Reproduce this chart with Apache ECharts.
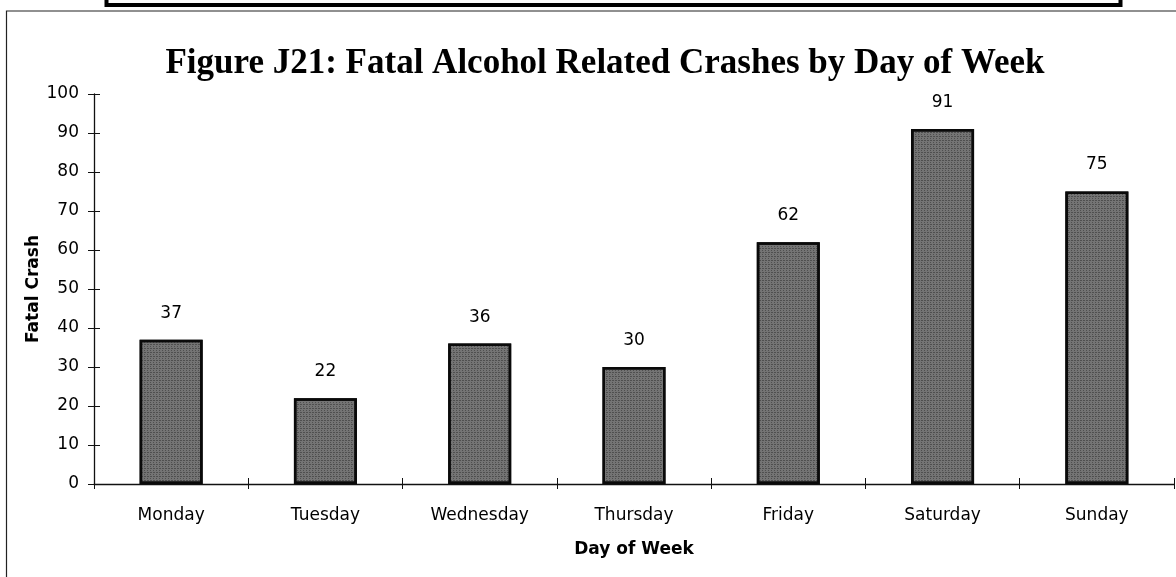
<!DOCTYPE html>
<html>
<head>
<meta charset="utf-8">
<title>Figure J21</title>
<script src="https://cdn.jsdelivr.net/npm/echarts@6/dist/echarts.min.js"></script>
<style>
  html, body { margin: 0; padding: 0; background: #fff; }
  #chart { width: 1176px; height: 577px; }
</style>
</head>
<body>
<div id="chart"></div>
<script>
// Fatal alcohol related crashes, by day of week
const days = ['Monday', 'Tuesday', 'Wednesday', 'Thursday', 'Friday', 'Saturday', 'Sunday'];
const fatalCrashes = [37, 22, 36, 30, 62, 91, 75];
const yTicks = { min: 0, max: 100, interval: 10 };

const chart = echarts.init(document.getElementById('chart'), null, { renderer: 'canvas' });

const sans = '"DejaVu Sans", "Liberation Sans", Arial, sans-serif';
const axisColor = '#111';

chart.setOption({
  animation: false,
  backgroundColor: '#fff',
  title: {
    text: 'Figure J21: Fatal Alcohol Related Crashes by Day of Week',
    left: 600,
    textAlign: 'center',
    top: 41,
    textStyle: {
      fontFamily: '"Liberation Serif", "Times New Roman", serif',
      fontWeight: 'bold',
      fontSize: 35,
      color: '#000'
    }
  },
  graphic: [
    // page frame
    { type: 'polyline', shape: { points: [[1176, 11], [6.5, 11], [6.5, 577]] },
      style: { stroke: '#222', lineWidth: 1.2, fill: null } },
    // edge of the box above the chart
    { type: 'rect', shape: { x: 106.5, y: -10, width: 1014, height: 15 },
      style: { stroke: '#000', lineWidth: 4, fill: '#fff' } }
  ],
  grid: { left: 94, right: 2, top: 94, bottom: 93, containLabel: false },
  xAxis: [
    {
      type: 'category',
      data: days,
      boundaryGap: true,
      name: 'Day of Week',
      nameLocation: 'middle',
      nameGap: 57,
      nameMoveOverlap: false,
      nameTextStyle: { fontFamily: sans, fontWeight: 'bold', fontSize: 17, color: '#000' },
      axisLine: { lineStyle: { color: axisColor, width: 1.3 } },
      axisTick: { show: true, length: 5, lineStyle: { color: axisColor, width: 1 } },
      axisLabel: { fontFamily: sans, fontSize: 17, color: '#000', margin: 23 },
      splitLine: { show: false }
    },
    {
      type: 'category',
      data: days,
      position: 'bottom',
      boundaryGap: true,
      axisLine: { show: false },
      axisTick: { show: true, inside: true, length: 6, lineStyle: { color: axisColor, width: 1 } },
      axisLabel: { show: false },
      splitLine: { show: false }
    }
  ],
  yAxis: [
    {
      type: 'value',
      min: yTicks.min,
      max: yTicks.max,
      interval: yTicks.interval,
      name: 'Fatal Crash',
      nameLocation: 'middle',
      nameGap: 52,
      nameMoveOverlap: false,
      nameRotate: 90,
      nameTextStyle: { fontFamily: sans, fontWeight: 'bold', fontSize: 17, color: '#000' },
      axisLine: { show: true, lineStyle: { color: axisColor, width: 1.3 } },
      axisTick: { show: true, length: 6, lineStyle: { color: axisColor, width: 1 } },
      axisLabel: { fontFamily: sans, fontSize: 17, color: '#000', margin: 15 },
      splitLine: { show: false }
    },
    {
      type: 'value',
      min: yTicks.min,
      max: yTicks.max,
      interval: yTicks.interval,
      position: 'left',
      axisLine: { show: false },
      axisTick: { show: true, inside: true, length: 6, lineStyle: { color: axisColor, width: 1 } },
      axisLabel: { show: false },
      splitLine: { show: false }
    }
  ],
  series: [
    {
      type: 'bar',
      data: fatalCrashes,
      xAxisIndex: 0,
      yAxisIndex: 0,
      barWidth: 63,
      itemStyle: {
        color: '#747474',
        borderColor: '#0a0a0a',
        borderWidth: 2.5,
        decal: {
          symbol: 'rect',
          symbolSize: 1,
          dashArrayX: [[1, 2], [2, 1]],
          dashArrayY: [1, 1],
          rotation: 0,
          color: 'rgba(25,25,25,0.4)'
        }
      },
      label: {
        show: true,
        position: 'top',
        distance: 18,
        fontFamily: sans,
        fontSize: 17,
        color: '#000'
      }
    }
  ]
});
</script>
</body>
</html>
